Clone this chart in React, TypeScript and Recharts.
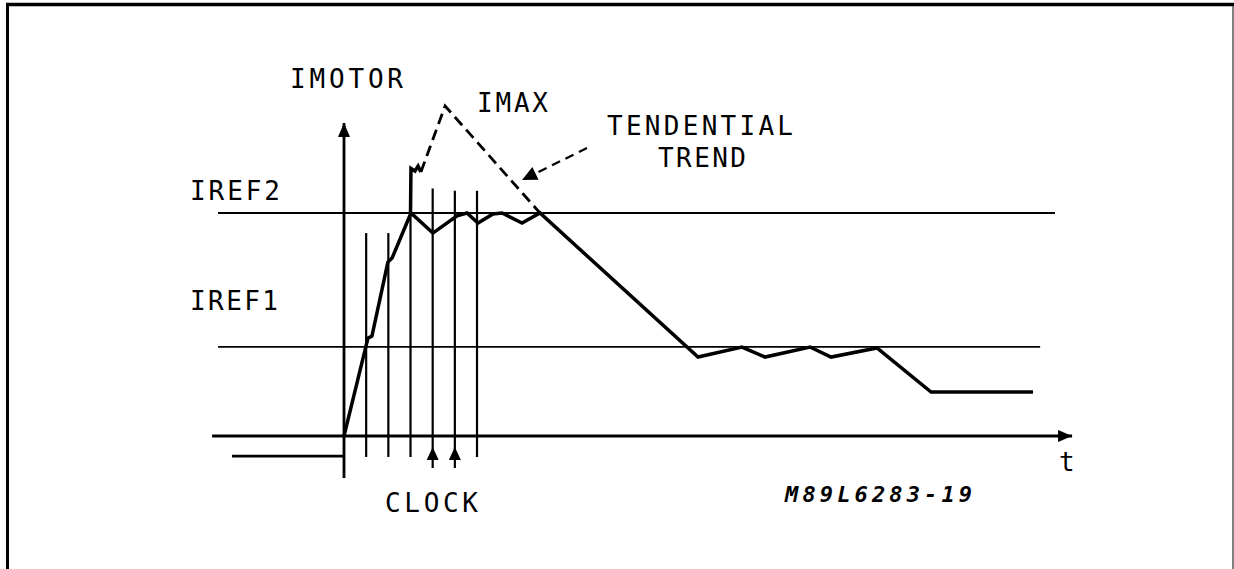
import React from "react";
import { ComposedChart, Line, Scatter, XAxis, YAxis } from "recharts";

// time in clock periods, current in arbitrary units (IREF1 = 4, IREF2 = 10)
const CURRENT_T = [0, 1.08, 1.26, 1.98, 2.17, 3.02, 4.01, 5.1, 5.55, 6.04, 6.72, 7.13, 8.03, 8.84, 15.97, 17.95, 18.99, 21.02, 21.97, 24.04, 26.48, 31.08];
const CURRENT_I = [0, 4.39, 4.48, 7.8, 7.98, 10, 9.1, 9.87, 10, 9.55, 9.96, 10, 9.55, 10, 3.54, 3.99, 3.54, 3.99, 3.54, 3.95, 1.97, 1.97];

const SPIKE_T = [3.0, 3.02, 3.2, 3.34, 3.47];
const SPIKE_I = [10, 12.0, 11.88, 12.1, 11.84];

const TREND_T = [3.47, 4.56, 8.84];
const TREND_I = [11.84, 14.8, 10];

const CLOCK_T = [1, 2, 3, 4, 5, 6];
const CLOCK_TOP = [9.1, 9.1, 10.9, 11.1, 11.0, 11.0];
const CLOCK_BOTTOM = [-0.94, -0.94, -0.94, -1.43, -1.43, -0.94];
const CLOCK_ARROW_T = [4, 5];

const IREF1 = 4;
const IREF2 = 10;
const REF_START = -5.68;
const IREF2_END = 32.07;
const IREF1_END = 31.4;
const AXIS_START = -5.95;
const AXIS_END = 32.84;
const PRE_T = [-5.05, 0];
const PRE_I = -0.9;
const YAXIS_I = [-1.88, 14.04];
const POINTER_T = [10.96, 8.03];
const POINTER_I = [12.91, 11.48];

const W = 1234;
const H = 569;
const X_DOMAIN = [-344 / 22.17, 890 / 22.17];
const Y_DOMAIN = [-(H - 436) / 22.3, 436 / 22.3];

const zip = (ts: number[], is: number[]) => ts.map((t, k) => ({ t, i: is[k] }));

const current = zip(CURRENT_T, CURRENT_I);
const spike = zip(SPIKE_T, SPIKE_I);
const trend = zip(TREND_T, TREND_I);
const pointer = zip(POINTER_T, POINTER_I);
const clockLines = CLOCK_T.map((t, k) => [
  { t, i: CLOCK_BOTTOM[k] },
  { t, i: CLOCK_TOP[k] },
]);
const iref2 = [{ t: REF_START, i: IREF2 }, { t: IREF2_END, i: IREF2 }];
const iref1 = [{ t: REF_START, i: IREF1 }, { t: IREF1_END, i: IREF1 }];
const tAxis = [{ t: AXIS_START, i: 0 }, { t: AXIS_END, i: 0 }];
const preZero = PRE_T.map((t) => ({ t, i: PRE_I }));
const yAxisLine = YAXIS_I.map((i) => ({ t: 0, i }));

const arrowHead = (angle: number, len = 13, half = 5) => (props: any) => {
  const { cx, cy } = props;
  if (cx == null || cy == null) return <g />;
  return (
    <polygon
      points={`0,0 ${-len},${-half} ${-len},${half}`}
      transform={`translate(${cx},${cy}) rotate(${angle})`}
      fill="#000"
    />
  );
};

const pointerAngle = (Math.atan2(32, -65) * 180) / Math.PI;

const FONT = "'DejaVu Sans Mono', 'Liberation Mono', monospace";

const labels = [
  { text: "IMOTOR", x: 290, y: 88, w: 113 },
  { text: "IMAX", x: 477, y: 112, w: 71 },
  { text: "TENDENTIAL", x: 607, y: 135, w: 186 },
  { text: "TREND", x: 658, y: 167, w: 88 },
  { text: "IREF2", x: 190, y: 200, w: 90 },
  { text: "IREF1", x: 190, y: 310, w: 88 },
  { text: "CLOCK", x: 385, y: 512, w: 93 },
];

const line = (data: any[], key: string, width: number, dash?: string) => (
  <Line
    key={key}
    data={data}
    dataKey="i"
    stroke="#000"
    strokeWidth={width}
    strokeDasharray={dash}
    dot={false}
    activeDot={false}
    isAnimationActive={false}
    strokeLinejoin="miter"
  />
);

export default function App() {
  return (
    <div style={{ position: "relative", width: W, height: H, background: "#fff" }}>
      <style>{"body{margin:0;background:#fff}"}</style>
      <ComposedChart width={W} height={H} margin={{ top: 0, right: 0, bottom: 0, left: 0 }}>
        <XAxis type="number" dataKey="t" domain={X_DOMAIN} hide allowDataOverflow />
        <YAxis type="number" domain={Y_DOMAIN} hide allowDataOverflow />
        {line(iref2, "iref2", 1.8)}
        {line(iref1, "iref1", 1.8)}
        {line(tAxis, "taxis", 2.8)}
        {line(preZero, "pre", 2.8)}
        {line(yAxisLine, "yaxis", 2.8)}
        {clockLines.map((d, k) => line(d, `clk${k}`, 2.2))}
        {line(current, "current", 3.5)}
        {line(spike, "spike", 3.5)}
        {line(trend, "trend", 2.8, "11 6")}
        {line(pointer, "pointer", 2.2, "9 6")}
        <Scatter data={[{ t: 0, i: YAXIS_I[1] }]} dataKey="i" shape={arrowHead(-90, 14, 6)} isAnimationActive={false} />
        <Scatter data={[{ t: AXIS_END, i: 0 }]} dataKey="i" shape={arrowHead(0, 14, 6)} isAnimationActive={false} />
        <Scatter data={CLOCK_ARROW_T.map((t) => ({ t, i: -0.49 }))} dataKey="i" shape={arrowHead(-90, 13, 6)} isAnimationActive={false} />
        <Scatter data={[pointer[1]]} dataKey="i" shape={arrowHead(pointerAngle, 15, 7)} isAnimationActive={false} />
      </ComposedChart>
      <svg width={W} height={H} style={{ position: "absolute", left: 0, top: 0, pointerEvents: "none" }}>
        <line x1={6} y1={4.5} x2={W} y2={4.5} stroke="#000" strokeWidth={3.5} />
        <line x1={7.5} y1={3} x2={7.5} y2={H} stroke="#000" strokeWidth={3} />
        <line x1={1233} y1={6} x2={1233} y2={H} stroke="#555" strokeWidth={1.5} />
        {labels.map((l) => (
          <text
            key={l.text}
            x={l.x}
            y={l.y}
            fontFamily={FONT}
            fontSize={26}
            textLength={l.w}
            lengthAdjust="spacing"
            fill="#000"
          >
            {l.text}
          </text>
        ))}
        <text
          x={785}
          y={502}
          fontFamily={FONT}
          fontSize={22}
          fontStyle="italic"
          fontWeight="bold"
          textLength={187}
          lengthAdjust="spacing"
          fill="#000"
        >
          M89L6283-19
        </text>
        <text x={1059} y={471} fontFamily={FONT} fontSize={26} fill="#000">
          t
        </text>
      </svg>
    </div>
  );
}
